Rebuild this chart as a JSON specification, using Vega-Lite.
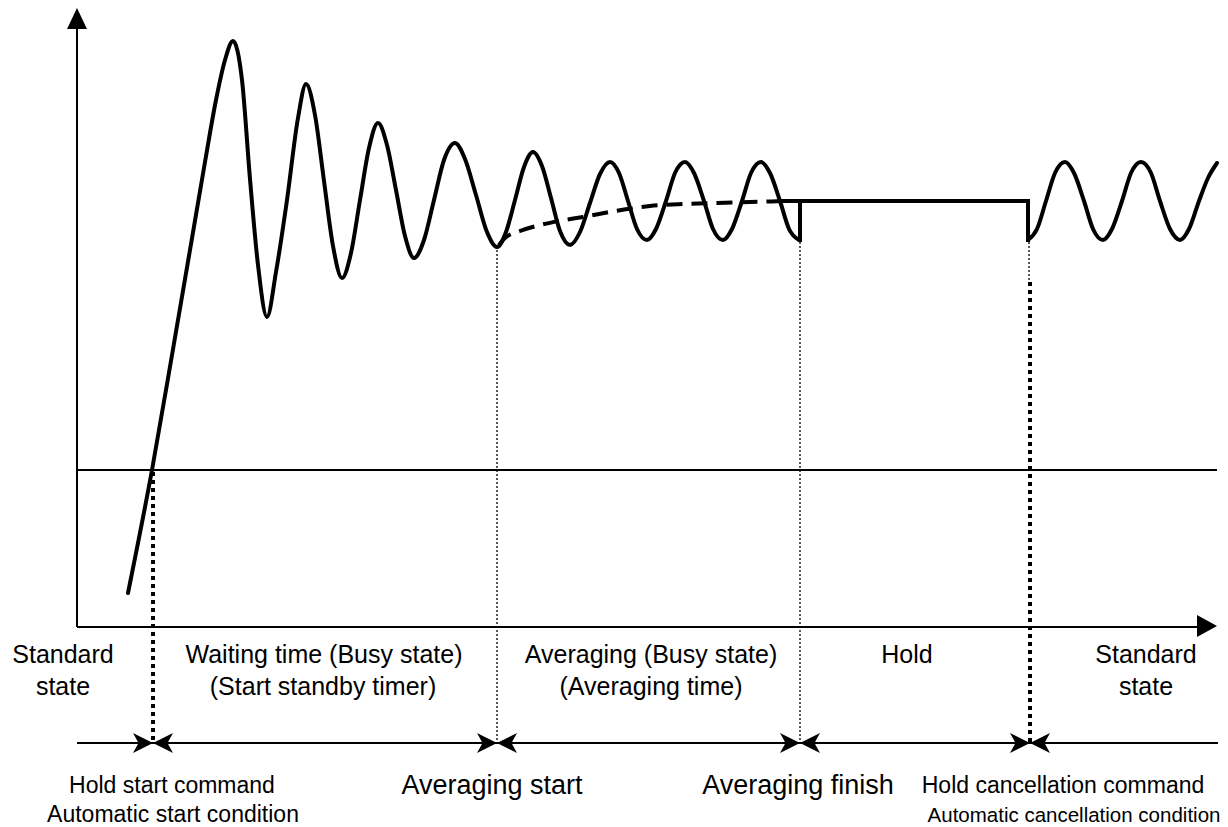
{
  "$schema": "https://vega.github.io/schema/vega-lite/v6.json",
  "width": 1228,
  "height": 827,
  "padding": 0,
  "autosize": {"type": "fit", "contains": "padding"},
  "background": "white",
  "config": {"view": {"stroke": null}},
  "datasets": {
    "axes": [
      {"x": 77, "y": 29, "x2": 77, "y2": 627},
      {"x": 77, "y": 627, "x2": 1200, "y2": 627},
      {"x": 77, "y": 470, "x2": 1217, "y2": 470},
      {"x": 77, "y": 743, "x2": 1218, "y2": 743}
    ],
    "hold": [
      {"x": 784, "y": 201, "x2": 1028, "y2": 201},
      {"x": 800, "y": 201, "x2": 800, "y2": 240},
      {"x": 1028, "y": 201, "x2": 1028, "y2": 240}
    ],
    "signal": [
      {"seg": "A", "x": 128, "y": 593}, {"seg": "A", "x": 152, "y": 470}, {"seg": "A", "x": 172, "y": 355}, {"seg": "A", "x": 190, "y": 250},
      {"seg": "A", "x": 205, "y": 162}, {"seg": "A", "x": 216, "y": 100}, {"seg": "A", "x": 225, "y": 60}, {"seg": "A", "x": 233, "y": 41},
      {"seg": "A", "x": 242, "y": 80}, {"seg": "A", "x": 250, "y": 179}, {"seg": "A", "x": 258, "y": 265}, {"seg": "A", "x": 267, "y": 317},
      {"seg": "A", "x": 276, "y": 272}, {"seg": "A", "x": 287, "y": 200}, {"seg": "A", "x": 298, "y": 118}, {"seg": "A", "x": 306, "y": 84},
      {"seg": "A", "x": 315, "y": 115}, {"seg": "A", "x": 324, "y": 181}, {"seg": "A", "x": 333, "y": 246}, {"seg": "A", "x": 342, "y": 278},
      {"seg": "A", "x": 351, "y": 253}, {"seg": "A", "x": 360, "y": 200}, {"seg": "A", "x": 369, "y": 148}, {"seg": "A", "x": 378, "y": 123},
      {"seg": "A", "x": 387, "y": 145}, {"seg": "A", "x": 396, "y": 190}, {"seg": "A", "x": 405, "y": 236}, {"seg": "A", "x": 414, "y": 258},
      {"seg": "A", "x": 424, "y": 240}, {"seg": "A", "x": 434, "y": 200}, {"seg": "A", "x": 444, "y": 160}, {"seg": "A", "x": 455, "y": 143},
      {"seg": "A", "x": 465, "y": 159}, {"seg": "A", "x": 476, "y": 195}, {"seg": "A", "x": 487, "y": 232}, {"seg": "A", "x": 497, "y": 247},
      {"seg": "A", "x": 506, "y": 232}, {"seg": "A", "x": 515, "y": 200}, {"seg": "A", "x": 524, "y": 167}, {"seg": "A", "x": 533, "y": 152},
      {"seg": "A", "x": 542, "y": 166}, {"seg": "A", "x": 551, "y": 198}, {"seg": "A", "x": 560, "y": 231}, {"seg": "A", "x": 570, "y": 245},
      {"seg": "A", "x": 580, "y": 232}, {"seg": "A", "x": 590, "y": 203}, {"seg": "A", "x": 600, "y": 174}, {"seg": "A", "x": 610, "y": 162},
      {"seg": "A", "x": 619, "y": 173}, {"seg": "A", "x": 628, "y": 201}, {"seg": "A", "x": 637, "y": 229}, {"seg": "A", "x": 647, "y": 240},
      {"seg": "A", "x": 656, "y": 229}, {"seg": "A", "x": 666, "y": 201}, {"seg": "A", "x": 675, "y": 173}, {"seg": "A", "x": 685, "y": 162},
      {"seg": "A", "x": 694, "y": 173}, {"seg": "A", "x": 704, "y": 201}, {"seg": "A", "x": 713, "y": 229}, {"seg": "A", "x": 723, "y": 240},
      {"seg": "A", "x": 732, "y": 229}, {"seg": "A", "x": 742, "y": 201}, {"seg": "A", "x": 751, "y": 173}, {"seg": "A", "x": 761, "y": 162},
      {"seg": "A", "x": 770, "y": 173}, {"seg": "A", "x": 780, "y": 201}, {"seg": "A", "x": 789, "y": 229}, {"seg": "A", "x": 799, "y": 240},
      {"seg": "B", "x": 1028, "y": 240}, {"seg": "B", "x": 1037, "y": 229}, {"seg": "B", "x": 1046, "y": 201}, {"seg": "B", "x": 1055, "y": 173},
      {"seg": "B", "x": 1065, "y": 162}, {"seg": "B", "x": 1074, "y": 173}, {"seg": "B", "x": 1084, "y": 201}, {"seg": "B", "x": 1093, "y": 229},
      {"seg": "B", "x": 1103, "y": 240}, {"seg": "B", "x": 1112, "y": 229}, {"seg": "B", "x": 1122, "y": 201}, {"seg": "B", "x": 1131, "y": 173},
      {"seg": "B", "x": 1141, "y": 162}, {"seg": "B", "x": 1151, "y": 173}, {"seg": "B", "x": 1160, "y": 201}, {"seg": "B", "x": 1170, "y": 229},
      {"seg": "B", "x": 1180, "y": 240}, {"seg": "B", "x": 1189, "y": 229}, {"seg": "B", "x": 1199, "y": 201}, {"seg": "B", "x": 1208, "y": 178},
      {"seg": "B", "x": 1217, "y": 163}
    ],
    "average": [
      {"x": 499, "y": 245}, {"x": 505, "y": 238}, {"x": 520, "y": 231}, {"x": 540, "y": 225}, {"x": 565, "y": 220},
      {"x": 583, "y": 217}, {"x": 615, "y": 211}, {"x": 650, "y": 206}, {"x": 685, "y": 204}, {"x": 717, "y": 203},
      {"x": 750, "y": 202}, {"x": 785, "y": 201}
    ],
    "thickDots": [
      {"x": 153, "y": 472, "x2": 153, "y2": 743},
      {"x": 1030, "y": 282, "x2": 1030, "y2": 743}
    ],
    "thinDots": [
      {"x": 497, "y": 250, "x2": 497, "y2": 743},
      {"x": 800, "y": 242, "x2": 800, "y2": 743},
      {"x": 1029, "y": 242, "x2": 1029, "y2": 282}
    ],
    "upArrow": [{"x": 77, "y": 18.5}],
    "axisArrow": [{"x": 1207, "y": 626}],
    "rightHeads": [{"x": 143, "y": 743}, {"x": 487, "y": 743}, {"x": 790, "y": 743}, {"x": 1020, "y": 743}],
    "leftHeads": [{"x": 163, "y": 743}, {"x": 507, "y": 743}, {"x": 810, "y": 743}, {"x": 1040, "y": 743}],
    "stateLabels": [
      {"x": 63, "y": 663, "text": "Standard"},
      {"x": 63, "y": 695, "text": "state"},
      {"x": 324, "y": 663, "text": "Waiting time (Busy state)"},
      {"x": 323, "y": 695, "text": "(Start standby timer)"},
      {"x": 651, "y": 663, "text": "Averaging (Busy state)"},
      {"x": 651, "y": 695, "text": "(Averaging time)"},
      {"x": 907, "y": 663, "text": "Hold"},
      {"x": 1146, "y": 663, "text": "Standard"},
      {"x": 1146, "y": 695, "text": "state"}
    ],
    "eventLabels": [
      {"x": 492, "y": 794, "text": "Averaging start"},
      {"x": 798, "y": 794, "text": "Averaging finish"}
    ],
    "conditionLabels": [
      {"x": 172, "y": 793, "text": "Hold start command"},
      {"x": 173, "y": 822, "text": "Automatic start condition"},
      {"x": 1063, "y": 793, "text": "Hold cancellation command"}
    ],
    "narrowLabels": [
      {"x": 1074, "y": 822, "text": "Automatic cancellation condition"}
    ]
  },
  "layer": [
    {
      "data": {"name": "axes"},
      "mark": {"type": "rule", "color": "black", "strokeWidth": 2},
      "encoding": {
        "x": {"field": "x", "type": "quantitative", "scale": {"domain": [0, 1228], "nice": false, "zero": false}, "axis": null},
        "x2": {"field": "x2"},
        "y": {"field": "y", "type": "quantitative", "scale": {"domain": [0, 827], "nice": false, "zero": false, "reverse": true}, "axis": null},
        "y2": {"field": "y2"}
      }
    },
    {
      "data": {"name": "thinDots"},
      "mark": {"type": "rule", "color": "black", "strokeWidth": 1.3, "strokeDash": [2, 2]},
      "encoding": {
        "x": {"field": "x", "type": "quantitative"},
        "x2": {"field": "x2"},
        "y": {"field": "y", "type": "quantitative"},
        "y2": {"field": "y2"}
      }
    },
    {
      "data": {"name": "thickDots"},
      "mark": {"type": "rule", "color": "black", "strokeWidth": 4, "strokeDash": [4, 4]},
      "encoding": {
        "x": {"field": "x", "type": "quantitative"},
        "x2": {"field": "x2"},
        "y": {"field": "y", "type": "quantitative"},
        "y2": {"field": "y2"}
      }
    },
    {
      "data": {"name": "average"},
      "mark": {"type": "line", "color": "black", "strokeWidth": 4, "strokeDash": [16, 9], "interpolate": "monotone"},
      "encoding": {
        "x": {"field": "x", "type": "quantitative"},
        "y": {"field": "y", "type": "quantitative"}
      }
    },
    {
      "data": {"name": "signal"},
      "mark": {"type": "line", "color": "black", "strokeWidth": 4, "interpolate": "monotone", "strokeJoin": "round", "strokeCap": "round"},
      "encoding": {
        "x": {"field": "x", "type": "quantitative"},
        "y": {"field": "y", "type": "quantitative"},
        "detail": {"field": "seg", "type": "nominal"}
      }
    },
    {
      "data": {"name": "hold"},
      "mark": {"type": "rule", "color": "black", "strokeWidth": 4, "strokeCap": "square"},
      "encoding": {
        "x": {"field": "x", "type": "quantitative"},
        "x2": {"field": "x2"},
        "y": {"field": "y", "type": "quantitative"},
        "y2": {"field": "y2"}
      }
    },
    {
      "data": {"name": "upArrow"},
      "mark": {"type": "point", "shape": "M0,-1L0.95,1L-0.95,1Z", "size": 441, "filled": true, "color": "black", "opacity": 1},
      "encoding": {
        "x": {"field": "x", "type": "quantitative"},
        "y": {"field": "y", "type": "quantitative"}
      }
    },
    {
      "data": {"name": "axisArrow"},
      "mark": {"type": "point", "shape": "M1,0L-1,-1.1L-1,1.1Z", "size": 400, "filled": true, "color": "black", "opacity": 1},
      "encoding": {
        "x": {"field": "x", "type": "quantitative"},
        "y": {"field": "y", "type": "quantitative"}
      }
    },
    {
      "data": {"name": "rightHeads"},
      "mark": {"type": "point", "shape": "M1,0L-1,-1L-0.45,0L-1,1Z", "size": 400, "filled": true, "color": "black", "opacity": 1},
      "encoding": {
        "x": {"field": "x", "type": "quantitative"},
        "y": {"field": "y", "type": "quantitative"}
      }
    },
    {
      "data": {"name": "leftHeads"},
      "mark": {"type": "point", "shape": "M-1,0L1,-1L0.45,0L1,1Z", "size": 400, "filled": true, "color": "black", "opacity": 1},
      "encoding": {
        "x": {"field": "x", "type": "quantitative"},
        "y": {"field": "y", "type": "quantitative"}
      }
    },
    {
      "data": {"name": "stateLabels"},
      "mark": {"type": "text", "font": "Liberation Sans", "fontSize": 25, "align": "center", "baseline": "alphabetic", "color": "black"},
      "encoding": {
        "x": {"field": "x", "type": "quantitative"},
        "y": {"field": "y", "type": "quantitative"},
        "text": {"field": "text", "type": "nominal"}
      }
    },
    {
      "data": {"name": "eventLabels"},
      "mark": {"type": "text", "font": "Liberation Sans", "fontSize": 27, "align": "center", "baseline": "alphabetic", "color": "black"},
      "encoding": {
        "x": {"field": "x", "type": "quantitative"},
        "y": {"field": "y", "type": "quantitative"},
        "text": {"field": "text", "type": "nominal"}
      }
    },
    {
      "data": {"name": "conditionLabels"},
      "mark": {"type": "text", "font": "Liberation Sans", "fontSize": 23, "align": "center", "baseline": "alphabetic", "color": "black"},
      "encoding": {
        "x": {"field": "x", "type": "quantitative"},
        "y": {"field": "y", "type": "quantitative"},
        "text": {"field": "text", "type": "nominal"}
      }
    },
    {
      "data": {"name": "narrowLabels"},
      "mark": {"type": "text", "font": "Liberation Sans", "fontSize": 20.5, "align": "center", "baseline": "alphabetic", "color": "black"},
      "encoding": {
        "x": {"field": "x", "type": "quantitative"},
        "y": {"field": "y", "type": "quantitative"},
        "text": {"field": "text", "type": "nominal"}
      }
    }
  ]
}
